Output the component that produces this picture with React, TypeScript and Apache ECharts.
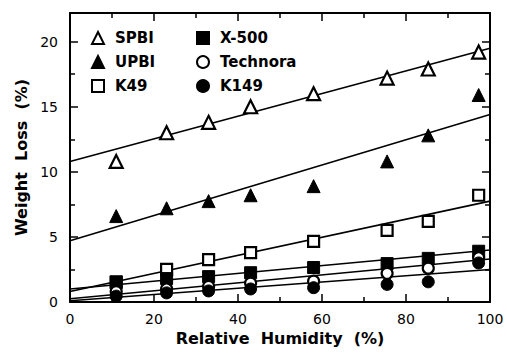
import React, { useEffect, useRef } from "react";
import * as echarts from "echarts";

const humidity = [11, 23, 33, 43, 58, 75.5, 85.3, 97.3];
const spbi = [10.8, 13.0, 13.8, 15.0, 16.0, 17.2, 17.9, 19.2];
const upbi = [6.6, 7.2, 7.75, 8.2, 8.9, 10.8, 12.8, 15.9];
const k49 = [1.5, 2.5, 3.25, 3.8, 4.65, 5.5, 6.2, 8.2];
const x500 = [1.55, 1.8, 1.95, 2.25, 2.65, 2.95, 3.35, 3.9];
const technora = [0.8, 1.0, 1.2, 1.45, 1.6, 2.2, 2.6, 3.4];
const k149 = [0.45, 0.7, 0.85, 1.0, 1.1, 1.35, 1.55, 3.0];

const fitX = [0, 100];
const spbiFit = [10.8, 19.5];
const upbiFit = [4.7, 14.4];
const k49Fit = [0.8, 7.75];
const x500Fit = [1.0, 4.0];
const technoraFit = [0.25, 3.3];
const k149Fit = [0.1, 2.5];

const xTicks = [0, 20, 40, 60, 80, 100];
const yTicks = [0, 5, 10, 15, 20];

const BOLD = "DejaVu Sans";
const PLAIN = "DejaVu Sans";

export default function App() {
  const ref = useRef<HTMLDivElement>(null);
  useEffect(() => {
    if (!ref.current) return;
    const chart = echarts.init(ref.current, undefined, { renderer: "svg" });
    const pts = (ys: number[]) => humidity.map((x, i) => [x, ys[i]]);
    const fit = (ys: number[]) => fitX.map((x, i) => [x, ys[i]]);
    const scatter = (name: string, data: number[], symbol: string, size: number, filled: boolean) => ({
      name,
      type: "scatter",
      data: pts(data),
      symbol,
      symbolSize: size,
      z: 3,
      itemStyle: filled
        ? { color: "#000", borderColor: "#000", borderWidth: 1, opacity: 1 }
        : { color: "#fff", borderColor: "#000", borderWidth: 2.2, opacity: 1 },
    });
    const line = (data: number[]) => ({
      type: "line",
      data: fit(data),
      symbol: "none",
      silent: true,
      z: 2,
      lineStyle: { color: "#000", width: 1.6 },
    });
    const tickFmt = (list: number[]) => (v: number) => (list.includes(v) ? String(v) : "");
    const baseAxis = {
      axisLine: { show: true, onZero: false, lineStyle: { color: "#000", width: 2 } },
      axisTick: { show: true, inside: true, length: 8, lineStyle: { color: "#000", width: 1.5 } },
      minorTick: { show: true, splitNumber: 2, length: 5, lineStyle: { color: "#000", width: 1.5 } },
      splitLine: { show: false },
    };
    const legendText = {
      fontFamily: BOLD,
      fontWeight: "bold",
      fontSize: 15,
      lineHeight: 16,
      color: "#000",
      padding: [0, 0, 0, 6],
    };
    const legendBase = {
      orient: "vertical",
      top: 25,
      itemGap: 8,
      itemWidth: 12,
      itemHeight: 12,
      textStyle: legendText,
      selectedMode: false,
    };
    chart.setOption({
      animation: false,
      backgroundColor: "#fff",
      grid: { left: 70, right: 17, top: 13, bottom: 51 },
      legend: [
        { ...legendBase, left: 86, data: ["SPBI", "UPBI", "K49"] },
        { ...legendBase, left: 191, data: ["X-500", "Technora", "K149"] },
      ],
      xAxis: [
        {
          type: "value",
          min: 0,
          max: 100,
          interval: 20,
          position: "bottom",
          name: "Relative  Humidity  (%)",
          nameLocation: "middle",
          nameGap: 27,
          nameTextStyle: { fontFamily: BOLD, fontWeight: "bold", fontSize: 16, color: "#000" },
          axisLabel: { fontFamily: PLAIN, fontSize: 14, color: "#000", margin: 10, formatter: tickFmt(xTicks) },
          ...baseAxis,
        },
        {
          type: "value",
          min: 0,
          max: 100,
          interval: 20,
          position: "top",
          axisLabel: { show: false },
          ...baseAxis,
        },
      ],
      yAxis: [
        {
          type: "value",
          min: 0,
          max: 22.2,
          interval: 5,
          position: "left",
          name: "Weight  Loss  (%)",
          nameLocation: "middle",
          nameGap: 39,
          nameTextStyle: { fontFamily: BOLD, fontWeight: "bold", fontSize: 16, color: "#000" },
          axisLabel: { fontFamily: PLAIN, fontSize: 14, color: "#000", margin: 12, formatter: tickFmt(yTicks) },
          ...baseAxis,
        },
        {
          type: "value",
          min: 0,
          max: 22.2,
          interval: 5,
          position: "right",
          axisLabel: { show: false },
          ...baseAxis,
        },
      ],
      series: [
        line(spbiFit),
        line(upbiFit),
        line(k49Fit),
        line(x500Fit),
        line(technoraFit),
        line(k149Fit),
        scatter("SPBI", spbi, "triangle", 13, false),
        scatter("UPBI", upbi, "triangle", 13, true),
        scatter("K49", k49, "rect", 11, false),
        scatter("X-500", x500, "rect", 12, true),
        scatter("Technora", technora, "circle", 11, false),
        scatter("K149", k149, "circle", 12, true),
      ],
    });
    return () => chart.dispose();
  }, []);
  return <div ref={ref} style={{ position: "absolute", left: 0, top: 0, width: 507, height: 353 }} />;
}
